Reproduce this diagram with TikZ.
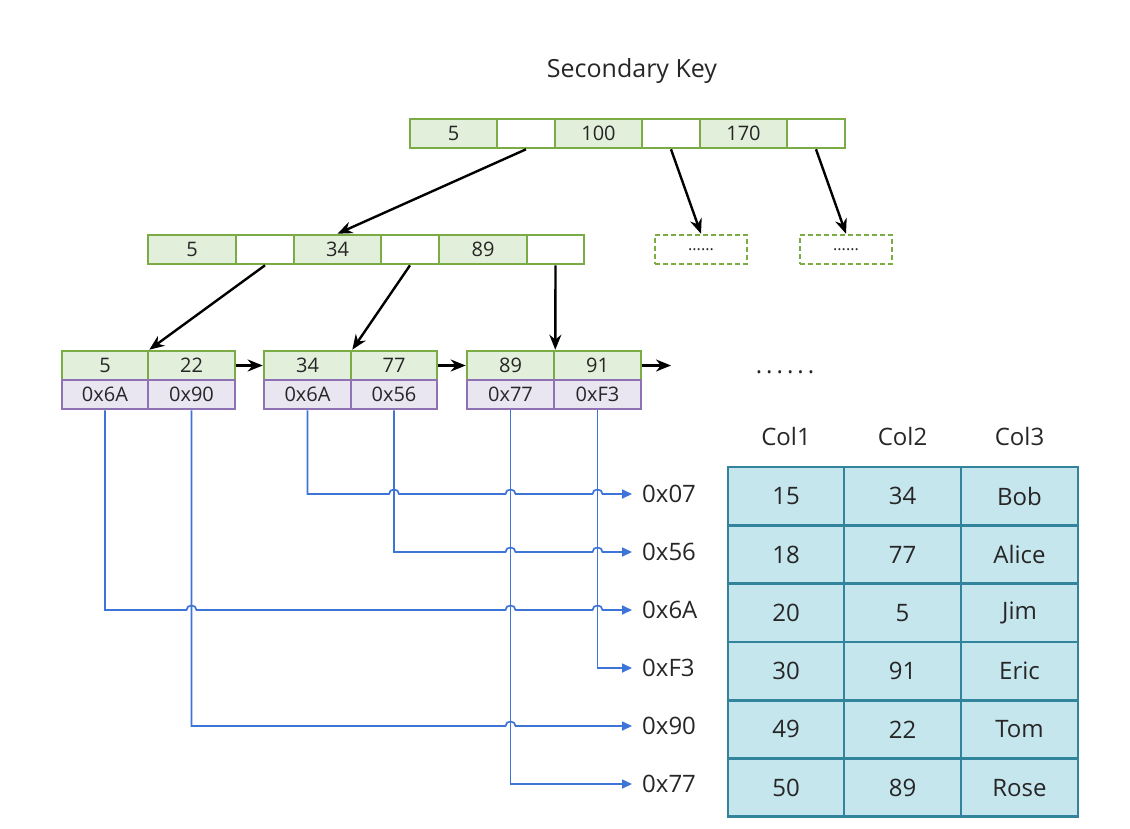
\documentclass[tikz,border=0pt]{standalone}
\usepackage{fontspec}
\setmainfont{Open Sans}
\usetikzlibrary{arrows.meta,calc}
\definecolor{gfill}{HTML}{E2EFDA}
\definecolor{gline}{HTML}{7AAB45}
\definecolor{pfill}{HTML}{E9E5F1}
\definecolor{pline}{HTML}{8E72B4}
\definecolor{bline}{HTML}{3D74D8}
\definecolor{tfill}{HTML}{C6E6EE}
\definecolor{tline}{HTML}{31849B}
\definecolor{txt}{HTML}{262626}
\begin{document}
\begin{tikzpicture}[x=1pt,y=-1pt,
  cell/.style={draw=gline, line width=2.6pt, minimum height=29pt, inner sep=0pt,
    font=\fontsize{20}{24}\selectfont, text=txt},
  key/.style={cell, fill=gfill},
  emp/.style={cell, fill=white},
  ptr/.style={cell, draw=pline, fill=pfill},
  dbox/.style={draw=gline, line width=2.4pt, dash pattern=on 5pt off 3pt, minimum width=92pt,
    minimum height=29pt, inner sep=0pt, font=\fontsize{16}{18}\selectfont, text=txt},
  arr/.style={draw=black, line width=2.4pt, -{Stealth[length=15pt,width=12pt]}},
  bl/.style={draw=bline, line width=1.7pt, -{Triangle[length=10pt,width=9pt]}},
  addr/.style={anchor=west, inner xsep=10pt, inner ysep=0pt, font=\fontsize{24}{28}\selectfont, text=txt},
  tcell/.style={draw=tline, fill=tfill, line width=2.8pt, minimum width=117pt, minimum height=58.3pt,
    inner sep=0pt, font=\fontsize{24}{28}\selectfont, text=txt},
  hdr/.style={font=\fontsize{24}{28}\selectfont, text=txt, inner sep=0pt}
]
\useasboundingbox (0,0) rectangle (1130,828);

% title
\node[font=\fontsize{25}{30}\selectfont, text=txt, inner sep=0pt] (title) at (632,71) {Secondary Key};

% top node
\node[key, minimum width=87pt] (t1) at (453.5,133.5) {5};
\node[emp, minimum width=58pt] (t2) at (526,133.5) {};
\node[key, minimum width=87pt] (t3) at (598.5,133.5) {100};
\node[emp, minimum width=58pt] (t4) at (671,133.5) {};
\node[key, minimum width=87pt] (t5) at (743.5,133.5) {170};
\node[emp, minimum width=58pt] (t6) at (816,133.5) {};

% middle node
\node[key, minimum width=88pt] (m1) at (192,249.5) {5};
\node[emp, minimum width=58pt] (m2) at (265,249.5) {};
\node[key, minimum width=87pt] (m3) at (337.5,249.5) {34};
\node[emp, minimum width=58pt] (m4) at (410,249.5) {};
\node[key, minimum width=88pt] (m5) at (483,249.5) {89};
\node[emp, minimum width=57pt] (m6) at (555.5,249.5) {};

% dashed placeholders
\node[dbox] (d1) at (701,249.5) {......};
\node[dbox] (d2) at (846,249.5) {......};

% leaves
\node[key, minimum width=86pt] (k1a) at (105,365.5) {5};
\node[key, minimum width=87pt] (k1b) at (191.5,365.5) {22};
\node[ptr, minimum width=86pt] (p1a) at (105,394.5) {0x6A};
\node[ptr, minimum width=87pt] (p1b) at (191.5,394.5) {0x90};

\node[key, minimum width=87pt] (k2a) at (307.5,365.5) {34};
\node[key, minimum width=86pt] (k2b) at (394,365.5) {77};
\node[ptr, minimum width=87pt] (p2a) at (307.5,394.5) {0x6A};
\node[ptr, minimum width=86pt] (p2b) at (394,394.5) {0x56};

\node[key, minimum width=87pt] (k3a) at (510.5,365.5) {89};
\node[key, minimum width=87pt] (k3b) at (597.5,365.5) {91};
\node[ptr, minimum width=87pt] (p3a) at (510.5,394.5) {0x77};
\node[ptr, minimum width=87pt] (p3b) at (597.5,394.5) {0xF3};

\coordinate (nxt) at (671,365.5);
\node[font=\fontsize{24}{28}\selectfont, text=txt, inner sep=0pt] (more) at (785,372)
  {.\hspace{4pt}.\hspace{4pt}.\hspace{4pt}.\hspace{4pt}.\hspace{4pt}.};

% tree arrows
\draw[arr] (t2.south) -- (m3.north);
\draw[arr] (t4.south) -- (d1.north);
\draw[arr] (t6.south) -- (d2.north);
\draw[arr] (m2.south) -- (k1a.north east);
\draw[arr] (m4.south) -- (k2a.north east);
\draw[arr] (m6.south) -- (k3a.north east);
\draw[arr] (k1b.east) -- (k2a.west);
\draw[arr] (k2b.east) -- (k3a.west);
\draw[arr] (k3b.east) -- (nxt);

% address labels
\node[addr] (a1) at (632,494) {0x07};
\node[addr] (a2) at (632,552) {0x56};
\node[addr] (a3) at (632,610) {0x6A};
\node[addr] (a4) at (632,668) {0xF3};
\node[addr] (a5) at (632,726) {0x90};
\node[addr] (a6) at (632,784) {0x77};

% pointer lines with hops
\draw[bl] (p2a.south) |- ($(p2b.south|-a1.west)+(-5,0)$)
  .. controls +(0,-6) and +(0,-6) .. ($(p2b.south|-a1.west)+(5,0)$)
  -- ($(p3a.south|-a1.west)+(-5,0)$)
  .. controls +(0,-6) and +(0,-6) .. ($(p3a.south|-a1.west)+(5,0)$)
  -- ($(p3b.south|-a1.west)+(-5,0)$)
  .. controls +(0,-6) and +(0,-6) .. ($(p3b.south|-a1.west)+(5,0)$)
  -- (a1.west);
\draw[bl] (p2b.south) |- ($(p3a.south|-a2.west)+(-5,0)$)
  .. controls +(0,-6) and +(0,-6) .. ($(p3a.south|-a2.west)+(5,0)$)
  -- ($(p3b.south|-a2.west)+(-5,0)$)
  .. controls +(0,-6) and +(0,-6) .. ($(p3b.south|-a2.west)+(5,0)$)
  -- (a2.west);
\draw[bl] (p1a.south) |- ($(p1b.south|-a3.west)+(-5,0)$)
  .. controls +(0,-6) and +(0,-6) .. ($(p1b.south|-a3.west)+(5,0)$)
  -- ($(p3a.south|-a3.west)+(-5,0)$)
  .. controls +(0,-6) and +(0,-6) .. ($(p3a.south|-a3.west)+(5,0)$)
  -- ($(p3b.south|-a3.west)+(-5,0)$)
  .. controls +(0,-6) and +(0,-6) .. ($(p3b.south|-a3.west)+(5,0)$)
  -- (a3.west);
\draw[bl] (p3b.south) |- (a4.west);
\draw[bl] (p1b.south) |- ($(p3a.south|-a5.west)+(-5,0)$)
  .. controls +(0,-6) and +(0,-6) .. ($(p3a.south|-a5.west)+(5,0)$)
  -- (a5.west);
\draw[bl] (p3a.south) |- (a6.west);

% table headers
\node[hdr] (h1) at (786,436) {Col1};
\node[hdr] (h2) at (902.5,436) {Col2};
\node[hdr] (h3) at (1019.5,436) {Col3};

% table
\foreach \r/\a/\b/\c [count=\i] in {1/15/34/Bob,2/18/77/Alice,3/20/5/Jim,4/30/91/Eric,5/49/22/Tom,6/50/89/Rose}{
  \pgfmathsetmacro\yy{467+29.15+58.3*(\i-1)}
  \node[tcell, minimum width=116pt] (r\i c1) at (786,\yy) {\a};
  \node[tcell] (r\i c2) at (902.5,\yy) {\b};
  \node[tcell] (r\i c3) at (1019.5,\yy) {\c};
}
\end{tikzpicture}
\end{document}
